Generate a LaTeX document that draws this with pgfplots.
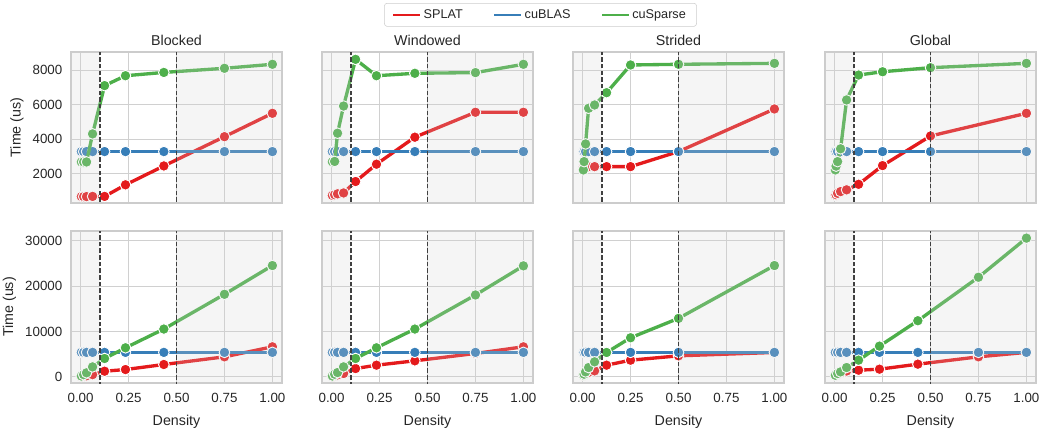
\documentclass[border=0pt]{standalone}
\usepackage{fontspec}
\setmainfont{Liberation Sans}
\usepackage{pgfplots}
\pgfplotsset{compat=1.18}
\definecolor{cred}{HTML}{E41A1C}
\definecolor{cblue}{HTML}{377EB8}
\definecolor{cgreen}{HTML}{4DAF4A}
\definecolor{txt}{HTML}{262626}
\definecolor{framec}{HTML}{CCCCCC}
\definecolor{gridc}{HTML}{D0D0D0}
\definecolor{shadec}{HTML}{D3D3D3}
\definecolor{dashc}{HTML}{404040}
\pgfplotsset{
 ser/.style={color=#1, line width=2.5pt, line join=round, mark=*, mark size=4pt,
   mark options={fill=#1, draw=white, line width=0.7pt, solid}, forget plot},
 panel/.style={scale only axis, width=158.25pt, xmin=-0.05, xmax=1.05, anchor=north west,
   axis line style={draw=framec, line width=0.9pt},
   grid=major, major grid style={draw=gridc, line width=0.75pt},
   major tick length=0pt, scaled y ticks=false, scaled x ticks=false,
   xtick={0,0.25,0.5,0.75,1},
   tick label style={font=\fontsize{10}{12}\selectfont, text=txt},
   xticklabel style={yshift=-4pt},
   yticklabel style={xshift=-3pt},
   label style={font=\fontsize{10.7}{13}\selectfont, text=txt},
   xlabel style={yshift=-3pt},
   title style={font=\fontsize{10.7}{13}\selectfont, text=txt, yshift=-5pt},
   clip marker paths=true},
 toprow/.style={panel, height=113.25pt, ymin=320, ymax=9040, ytick={2000,4000,6000,8000}, xticklabels={}},
 botrow/.style={panel, height=114pt, ymin=-1350, ymax=32150, ytick={0,10000,20000,30000},
   xticklabels={0.00,0.25,0.50,0.75,1.00}, xlabel={Density}},
}
\newcommand{\decor}{%
 \fill[shadec, opacity=0.22] (axis cs:-0.2,-5000) rectangle (axis cs:0.1,40000);
 \fill[shadec, opacity=0.22] (axis cs:0.5,-5000) rectangle (axis cs:1.2,40000);
 \draw[dashc, line width=1.35pt, dash pattern=on 3.4pt off 1.6pt] (axis cs:0.1,-5000) -- (axis cs:0.1,40000);
 \draw[dashc, line width=1.35pt, dash pattern=on 3.4pt off 1.6pt] (axis cs:0.5,-5000) -- (axis cs:0.5,40000);
}
\begin{document}
\begin{tikzpicture}
\useasboundingbox (0,0) rectangle (786pt,-321.75pt);
% ---------------- top row ----------------
\begin{axis}[toprow, at={(53.25pt,-39pt)}, title={Blocked}, yticklabels={2000,4000,6000,8000}, ylabel={Time (us)}]
\addplot[ser=cred] coordinates {(0.004,690)(0.016,690)(0.031,690)(0.0625,700)(0.125,700)(0.234,1370)(0.434,2460)(0.75,4150)(1.0,5500)};
\addplot[ser=cblue] coordinates {(0.004,3290)(0.016,3290)(0.031,3290)(0.0625,3290)(0.125,3290)(0.234,3290)(0.434,3290)(0.75,3290)(1.0,3290)};
\addplot[ser=cgreen] coordinates {(0.004,2690)(0.016,2690)(0.031,2690)(0.0625,4310)(0.125,7100)(0.234,7670)(0.434,7860)(0.75,8100)(1.0,8330)};
\decor
\end{axis}
\begin{axis}[toprow, at={(241.5pt,-39pt)}, title={Windowed}, yticklabels={},
  legend style={at={(1.0355,1.3245)}, anchor=north, legend columns=3, draw=framec, rounded corners=2pt, fill=white,
   font=\fontsize{9.5}{11}\selectfont, text=txt, /tikz/every even column/.append style={column sep=21pt},
   inner xsep=6pt, inner ysep=2.6pt},
  legend image code/.code={\draw[#1] (0pt,0pt) -- (20pt,0pt);}]
\addlegendimage{color=cred, line width=1.4pt}\addlegendentry{SPLAT}
\addlegendimage{color=cblue, line width=1.4pt}\addlegendentry{cuBLAS}
\addlegendimage{color=cgreen, line width=1.4pt}\addlegendentry{cuSparse}
\addplot[ser=cred] coordinates {(0.004,760)(0.016,800)(0.031,850)(0.0625,900)(0.125,1560)(0.234,2560)(0.434,4120)(0.75,5560)(1.0,5560)};
\addplot[ser=cblue] coordinates {(0.004,3290)(0.016,3290)(0.031,3290)(0.0625,3290)(0.125,3290)(0.234,3290)(0.434,3290)(0.75,3290)(1.0,3290)};
\addplot[ser=cgreen] coordinates {(0.004,2700)(0.016,2720)(0.031,4350)(0.0625,5920)(0.125,8615)(0.234,7670)(0.434,7810)(0.75,7850)(1.0,8330)};
\decor
\end{axis}
\begin{axis}[toprow, at={(429.75pt,-39pt)}, title={Strided}, yticklabels={}]
\addplot[ser=cred] coordinates {(0.0039,2420)(0.0078,2420)(0.0156,2420)(0.03125,2420)(0.0625,2420)(0.125,2420)(0.25,2420)(0.5,3290)(1.0,5750)};
\addplot[ser=cblue] coordinates {(0.0039,3290)(0.0078,3290)(0.0156,3290)(0.03125,3290)(0.0625,3290)(0.125,3290)(0.25,3290)(0.5,3290)(1.0,3290)};
\addplot[ser=cgreen] coordinates {(0.0039,2230)(0.0078,2710)(0.0156,3730)(0.03125,5790)(0.0625,5980)(0.125,6690)(0.25,8290)(0.5,8330)(1.0,8385)};
\decor
\end{axis}
\begin{axis}[toprow, at={(618.75pt,-39pt)}, title={Global}, yticklabels={}]
\addplot[ser=cred] coordinates {(0.0039,760)(0.0078,800)(0.0156,880)(0.03125,980)(0.0625,1080)(0.125,1400)(0.25,2480)(0.5,4190)(1.0,5500)};
\addplot[ser=cblue] coordinates {(0.0039,3290)(0.0078,3290)(0.0156,3290)(0.03125,3290)(0.0625,3290)(0.125,3290)(0.25,3290)(0.5,3290)(1.0,3290)};
\addplot[ser=cgreen] coordinates {(0.0039,2230)(0.0078,2450)(0.0156,2710)(0.03125,3450)(0.0625,6270)(0.125,7710)(0.25,7900)(0.5,8135)(1.0,8385)};
\decor
\end{axis}
% ---------------- bottom row ----------------
\begin{axis}[botrow, at={(53.25pt,-173.25pt)}, yticklabels={0,10000,20000,30000}, ylabel={Time (us)}]
\addplot[ser=cred] coordinates {(0.004,100)(0.016,150)(0.031,250)(0.0625,500)(0.125,1250)(0.234,1620)(0.434,2730)(0.75,4420)(1.0,6630)};
\addplot[ser=cblue] coordinates {(0.004,5400)(0.016,5400)(0.031,5400)(0.0625,5400)(0.125,5400)(0.234,5400)(0.434,5400)(0.75,5400)(1.0,5400)};
\addplot[ser=cgreen] coordinates {(0.004,200)(0.016,500)(0.031,900)(0.0625,2200)(0.125,4050)(0.234,6410)(0.434,10540)(0.75,18200)(1.0,24540)};
\decor
\end{axis}
\begin{axis}[botrow, at={(241.5pt,-173.25pt)}, yticklabels={}]
\addplot[ser=cred] coordinates {(0.004,150)(0.016,250)(0.031,450)(0.0625,750)(0.125,1840)(0.234,2580)(0.434,3540)(0.75,5160)(1.0,6630)};
\addplot[ser=cblue] coordinates {(0.004,5400)(0.016,5400)(0.031,5400)(0.0625,5400)(0.125,5400)(0.234,5400)(0.434,5400)(0.75,5400)(1.0,5400)};
\addplot[ser=cgreen] coordinates {(0.004,200)(0.016,590)(0.031,960)(0.0625,2210)(0.125,4050)(0.234,6410)(0.434,10540)(0.75,18050)(1.0,24470)};
\decor
\end{axis}
\begin{axis}[botrow, at={(429.75pt,-173.25pt)}, yticklabels={}]
\addplot[ser=cred] coordinates {(0.0039,300)(0.0078,500)(0.0156,800)(0.03125,1000)(0.0625,1330)(0.125,2580)(0.25,3680)(0.5,4640)(1.0,5380)};
\addplot[ser=cblue] coordinates {(0.0039,5400)(0.0078,5400)(0.0156,5400)(0.03125,5400)(0.0625,5400)(0.125,5400)(0.25,5400)(0.5,5400)(1.0,5400)};
\addplot[ser=cgreen] coordinates {(0.0039,400)(0.0078,600)(0.0156,1100)(0.03125,2060)(0.0625,3320)(0.125,5380)(0.25,8620)(0.5,12900)(1.0,24540)};
\decor
\end{axis}
\begin{axis}[botrow, at={(618.75pt,-173.25pt)}, yticklabels={}]
\addplot[ser=cred] coordinates {(0.004,300)(0.016,600)(0.031,900)(0.0625,1300)(0.125,1470)(0.234,1700)(0.434,2800)(0.75,4420)(1.0,5400)};
\addplot[ser=cblue] coordinates {(0.004,5400)(0.016,5400)(0.031,5400)(0.0625,5400)(0.125,5400)(0.234,5400)(0.434,5400)(0.75,5400)(1.0,5400)};
\addplot[ser=cgreen] coordinates {(0.004,370)(0.016,740)(0.031,1100)(0.0625,2060)(0.125,3690)(0.234,6780)(0.434,12380)(0.75,21960)(1.0,30580)};
\decor
\end{axis}
\end{tikzpicture}
\end{document}
